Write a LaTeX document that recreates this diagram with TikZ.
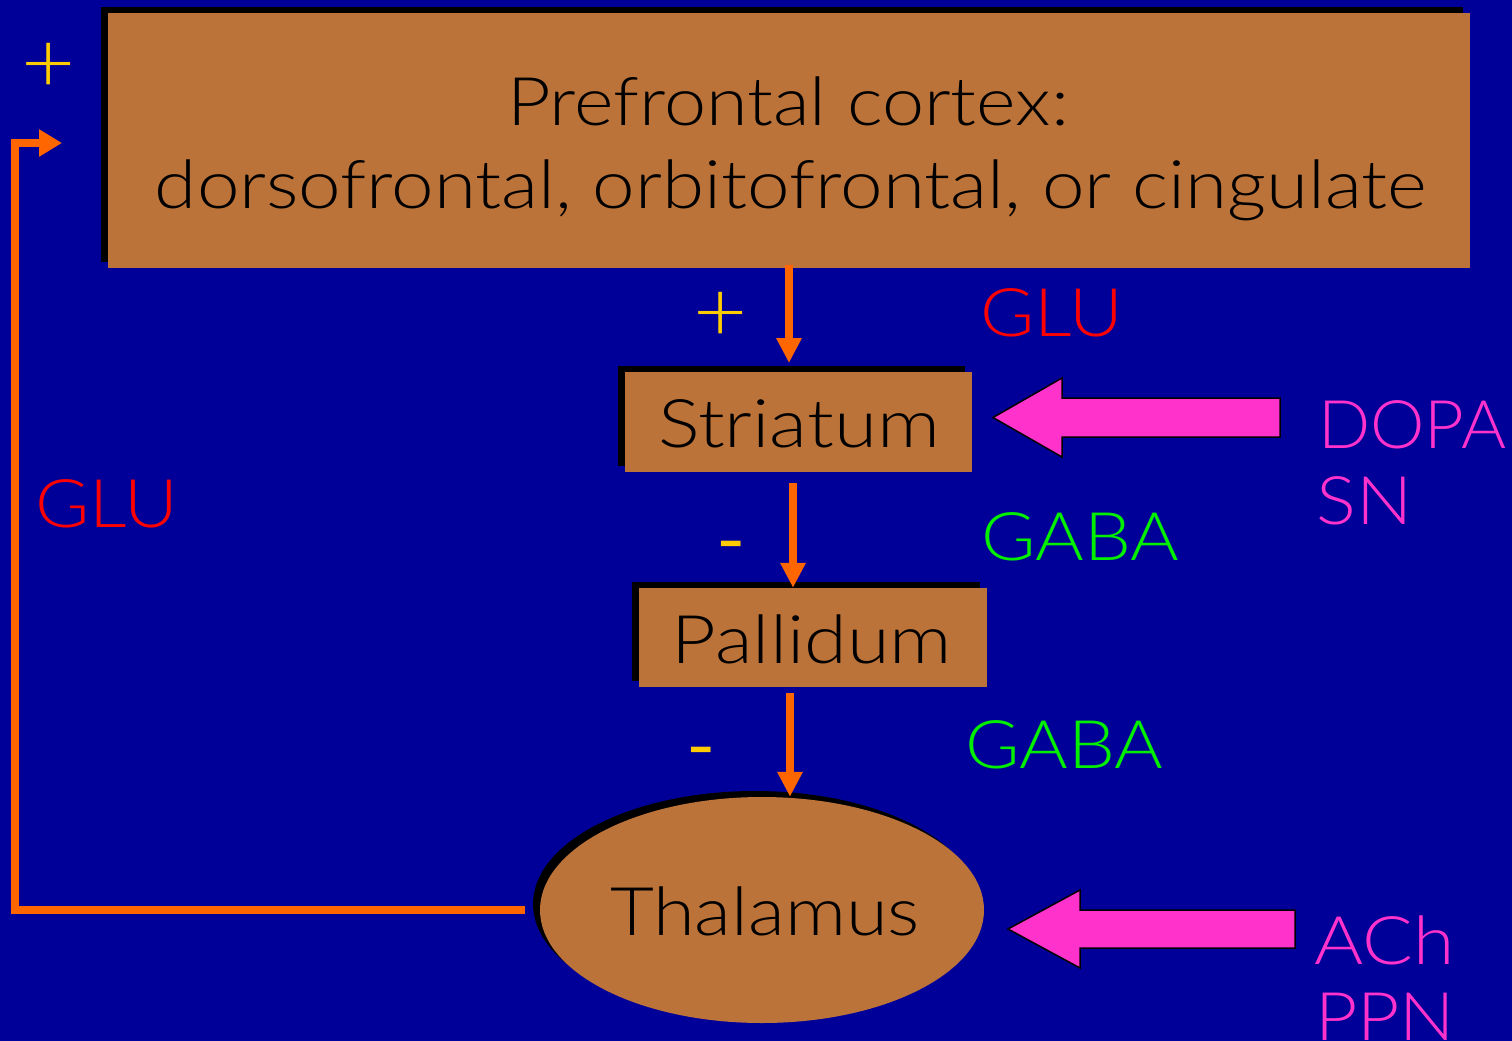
\documentclass[tikz,border=0pt]{standalone}
\usepackage{fontspec}
\usepackage{graphicx}
\setmainfont{Lato}[UprightFont=* Light, FakeStretch=1.1]
\newfontfamily\regfont{Lato}[FakeStretch=1.1]
\usetikzlibrary{arrows.meta,shapes.geometric,shadows}
\definecolor{bg}{RGB}{0,0,153}
\definecolor{boxfill}{RGB}{187,115,57}
\definecolor{oline}{RGB}{255,102,0}
\definecolor{sign}{RGB}{255,204,0}
\definecolor{glu}{RGB}{255,0,0}
\definecolor{gaba}{RGB}{0,240,0}
\definecolor{pink}{RGB}{255,51,204}
\newcommand{\fitw}[2]{\resizebox{#1}{\height}{#2}}
\tikzset{
  region/.style={draw=none, fill=boxfill, inner sep=0pt,
    drop shadow={shadow xshift=-7pt, shadow yshift=6pt, fill=black, opacity=1}},
  lbl/.style={inner sep=0pt, font=\fontsize{67}{70}\selectfont, anchor=base},
  signlbl/.style={inner sep=0pt, font=\fontsize{85}{90}\selectfont, text=sign},
  minuslbl/.style={inner sep=0pt, font=\regfont\fontsize{72}{75}\selectfont, text=sign},
  oarr/.style={draw=oline, line width=8pt, -{Triangle[length=25pt,width=24pt]}},
  blockarr/.style={fill=pink, draw=black, line width=1.5pt, line join=miter},
}
\begin{document}
\begin{tikzpicture}[x=1pt,y=-1pt]
\fill[bg] (0,0) rectangle (1512,1041);
\useasboundingbox (0,0) rectangle (1512,1041);

% regions
\node[region, minimum width=1362pt, minimum height=255pt] (pf) at (789,140.5) {};
\node[region, minimum width=347pt, minimum height=100pt] (st) at (798.5,422) {};
\node[region, minimum width=348pt, minimum height=99pt] (pa) at (813,637.5) {};
\node[region, ellipse, minimum width=444pt, minimum height=226pt] (th) at (762,910) {};

% region texts
\node[lbl] (pft1) at (788,125) {\fitw{562pt}{Prefrontal cortex:}};
\node[lbl] (pft2) at (791,208) {\fitw{1272pt}{dorsofrontal, orbitofrontal, or cingulate}};
\node[lbl] (stt) at (799,447) {\fitw{282pt}{Striatum}};
\node[lbl] (pat) at (812,663) {\fitw{280pt}{Pallidum}};
\node[lbl] (tht) at (765,935) {\fitw{310pt}{Thalamus}};

% orange connectors
\draw[oarr] ([yshift=3pt]pf.south) -- (pf.south |- 0,363);
\draw[oarr] ([yshift=-11pt]st.south -| 793,0) -- (pa.north -| 793,0);
\draw[oarr] ([yshift=-6pt]pa.south -| 790,0) -- (th.north -| 790,0);
\coordinate (fbend) at (62,143);
\draw[oarr, -{Triangle[length=23pt,width=26pt]}] ([xshift=-15pt]th.west) -| (15,143) -- (fbend);

% signs
\node[signlbl] (s1) at (49,68) {+};
\node[signlbl] (s2) at (721,317) {+};
\node[minuslbl] (s3) at (731,553) {-};
\node[minuslbl] (s4) at (701,759) {-};

% transmitter labels
\node[lbl, text=glu] (g1) at (1052,336) {\fitw{143pt}{GLU}};
\node[lbl, text=glu] (g2) at (107,527) {\fitw{143pt}{GLU}};
\node[lbl, text=gaba] (ga1) at (1080,560) {\fitw{198pt}{GABA}};
\node[lbl, text=gaba] (ga2) at (1064,768) {\fitw{198pt}{GABA}};
\node[lbl, text=pink] (dopa) at (1412,448) {\fitw{188pt}{DOPA}};
\node[lbl, text=pink, anchor=base west] (sn) at (1316,524) {\fitw{96pt}{SN}};
\node[lbl, text=pink, anchor=base west] (ach) at (1314,964) {\fitw{140pt}{ACh}};
\node[lbl, text=pink, anchor=base west] (ppn) at (1315,1040) {\fitw{140pt}{PPN}};

% block arrows
\coordinate (dtip) at (993,417.5);
\draw[blockarr] (dtip) -- ++(69,-39.5) -- ++(0,20) -- ++(218,0) -- ++(0,39) -- ++(-218,0) -- ++(0,20) -- cycle;
\coordinate (atip) at (1008,929);
\draw[blockarr] (atip) -- ++(72,-39) -- ++(0,20) -- ++(215,0) -- ++(0,38) -- ++(-215,0) -- ++(0,20) -- cycle;
\end{tikzpicture}
\end{document}
